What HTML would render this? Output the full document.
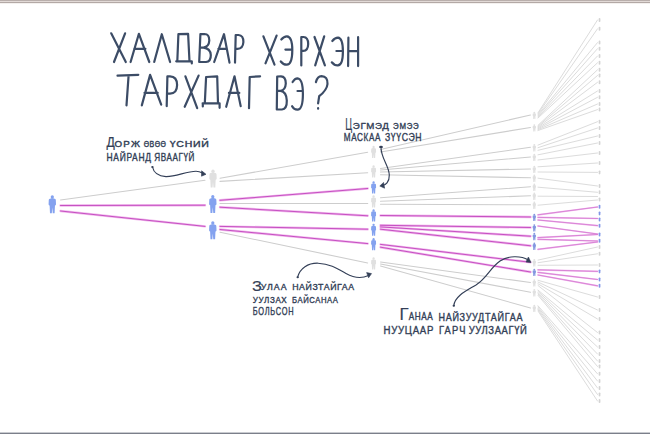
<!DOCTYPE html>
<html><head><meta charset="utf-8"><title>Халдвар хэрхэн тархдаг вэ?</title>
<style>
html,body{margin:0;padding:0;background:#fff;}
body{width:650px;height:434px;position:relative;overflow:hidden;font-family:"Liberation Sans",sans-serif;}
.tb{position:absolute;left:0;top:0;width:650px;height:3px;background:linear-gradient(#b9afac 0,#b9afac 1px,#e2dad7 1px,#e2dad7 2px,#b3a9a6 2px,#b3a9a6 3px);}
.tb2{position:absolute;left:0;top:3px;width:650px;height:1px;background:#f4f1ef;}
.bb{position:absolute;left:0;top:432px;width:650px;height:2px;background:linear-gradient(#c9cbd0 0,#c9cbd0 1px,#7b7f8a 1px,#7b7f8a 2px);}
</style></head>
<body>
<div class="tb"></div><div class="tb2"></div>
<svg width="650" height="434" viewBox="0 0 650 434" style="position:absolute;left:0;top:0">
<line x1="60.50" y1="200.00" x2="205.00" y2="180.30" stroke="#cdcdcd" stroke-width="1.10" stroke-linecap="round"/>
<line x1="220.00" y1="178.20" x2="367.70" y2="152.30" stroke="#cdcdcd" stroke-width="1.10" stroke-linecap="round"/>
<line x1="220.00" y1="181.40" x2="367.70" y2="172.80" stroke="#cdcdcd" stroke-width="1.10" stroke-linecap="round"/>
<line x1="220.00" y1="203.50" x2="367.70" y2="203.50" stroke="#cdcdcd" stroke-width="1.10" stroke-linecap="round"/>
<line x1="220.00" y1="232.20" x2="367.70" y2="263.00" stroke="#cdcdcd" stroke-width="1.10" stroke-linecap="round"/>
<line x1="380.50" y1="149.50" x2="530.50" y2="115.00" stroke="#cdcdcd" stroke-width="1.10" stroke-linecap="round"/>
<line x1="380.50" y1="152.00" x2="530.50" y2="127.50" stroke="#cdcdcd" stroke-width="1.10" stroke-linecap="round"/>
<line x1="380.50" y1="168.50" x2="530.50" y2="147.30" stroke="#cdcdcd" stroke-width="1.10" stroke-linecap="round"/>
<line x1="380.50" y1="170.00" x2="530.50" y2="157.00" stroke="#cdcdcd" stroke-width="1.10" stroke-linecap="round"/>
<line x1="380.50" y1="172.00" x2="530.50" y2="169.00" stroke="#cdcdcd" stroke-width="1.10" stroke-linecap="round"/>
<line x1="380.50" y1="174.70" x2="530.50" y2="177.80" stroke="#cdcdcd" stroke-width="1.10" stroke-linecap="round"/>
<line x1="380.50" y1="197.80" x2="530.50" y2="186.80" stroke="#cdcdcd" stroke-width="1.10" stroke-linecap="round"/>
<line x1="380.50" y1="201.20" x2="530.50" y2="195.80" stroke="#cdcdcd" stroke-width="1.10" stroke-linecap="round"/>
<line x1="380.50" y1="204.20" x2="530.50" y2="204.80" stroke="#cdcdcd" stroke-width="1.10" stroke-linecap="round"/>
<line x1="380.50" y1="262.00" x2="530.50" y2="282.50" stroke="#cdcdcd" stroke-width="1.10" stroke-linecap="round"/>
<line x1="380.50" y1="264.00" x2="530.50" y2="292.30" stroke="#cdcdcd" stroke-width="1.10" stroke-linecap="round"/>
<line x1="380.50" y1="266.00" x2="530.50" y2="308.00" stroke="#cdcdcd" stroke-width="1.10" stroke-linecap="round"/>
<line x1="538.00" y1="112.80" x2="597.50" y2="20.00" stroke="#dcdcdc" stroke-width="1.00" stroke-linecap="round"/>
<line x1="538.00" y1="113.84" x2="597.50" y2="28.80" stroke="#dcdcdc" stroke-width="1.00" stroke-linecap="round"/>
<line x1="538.00" y1="114.88" x2="597.50" y2="42.60" stroke="#dcdcdc" stroke-width="1.00" stroke-linecap="round"/>
<line x1="538.00" y1="115.92" x2="597.50" y2="48.70" stroke="#dcdcdc" stroke-width="1.00" stroke-linecap="round"/>
<line x1="538.00" y1="116.96" x2="597.50" y2="56.00" stroke="#dcdcdc" stroke-width="1.00" stroke-linecap="round"/>
<line x1="538.00" y1="118.00" x2="597.50" y2="62.80" stroke="#dcdcdc" stroke-width="1.00" stroke-linecap="round"/>
<line x1="538.00" y1="125.30" x2="597.50" y2="69.80" stroke="#dcdcdc" stroke-width="1.00" stroke-linecap="round"/>
<line x1="538.00" y1="126.17" x2="597.50" y2="75.50" stroke="#dcdcdc" stroke-width="1.00" stroke-linecap="round"/>
<line x1="538.00" y1="127.03" x2="597.50" y2="82.30" stroke="#dcdcdc" stroke-width="1.00" stroke-linecap="round"/>
<line x1="538.00" y1="127.90" x2="597.50" y2="91.00" stroke="#dcdcdc" stroke-width="1.00" stroke-linecap="round"/>
<line x1="538.00" y1="128.77" x2="597.50" y2="97.30" stroke="#dcdcdc" stroke-width="1.00" stroke-linecap="round"/>
<line x1="538.00" y1="129.63" x2="597.50" y2="104.00" stroke="#dcdcdc" stroke-width="1.00" stroke-linecap="round"/>
<line x1="538.00" y1="130.50" x2="597.50" y2="109.60" stroke="#dcdcdc" stroke-width="1.00" stroke-linecap="round"/>
<line x1="538.00" y1="145.10" x2="597.50" y2="121.70" stroke="#dcdcdc" stroke-width="1.00" stroke-linecap="round"/>
<line x1="538.00" y1="147.70" x2="597.50" y2="128.00" stroke="#dcdcdc" stroke-width="1.00" stroke-linecap="round"/>
<line x1="538.00" y1="150.30" x2="597.50" y2="136.00" stroke="#dcdcdc" stroke-width="1.00" stroke-linecap="round"/>
<line x1="538.00" y1="154.80" x2="597.50" y2="143.00" stroke="#dcdcdc" stroke-width="1.00" stroke-linecap="round"/>
<line x1="538.00" y1="160.00" x2="597.50" y2="153.00" stroke="#dcdcdc" stroke-width="1.00" stroke-linecap="round"/>
<line x1="538.00" y1="166.80" x2="597.50" y2="163.00" stroke="#dcdcdc" stroke-width="1.00" stroke-linecap="round"/>
<line x1="538.00" y1="172.00" x2="597.50" y2="172.40" stroke="#dcdcdc" stroke-width="1.00" stroke-linecap="round"/>
<line x1="538.00" y1="178.20" x2="597.50" y2="186.00" stroke="#dcdcdc" stroke-width="1.00" stroke-linecap="round"/>
<line x1="538.00" y1="187.20" x2="597.50" y2="192.30" stroke="#dcdcdc" stroke-width="1.00" stroke-linecap="round"/>
<line x1="538.00" y1="196.20" x2="597.50" y2="196.50" stroke="#dcdcdc" stroke-width="1.00" stroke-linecap="round"/>
<line x1="538.00" y1="205.20" x2="597.50" y2="200.00" stroke="#dcdcdc" stroke-width="1.00" stroke-linecap="round"/>
<line x1="538.00" y1="260.10" x2="597.50" y2="247.00" stroke="#dcdcdc" stroke-width="1.00" stroke-linecap="round"/>
<line x1="538.00" y1="262.70" x2="597.50" y2="253.80" stroke="#dcdcdc" stroke-width="1.00" stroke-linecap="round"/>
<line x1="538.00" y1="265.30" x2="597.50" y2="265.00" stroke="#dcdcdc" stroke-width="1.00" stroke-linecap="round"/>
<line x1="538.00" y1="280.30" x2="597.50" y2="297.00" stroke="#dcdcdc" stroke-width="1.00" stroke-linecap="round"/>
<line x1="538.00" y1="282.03" x2="597.50" y2="310.00" stroke="#dcdcdc" stroke-width="1.00" stroke-linecap="round"/>
<line x1="538.00" y1="283.77" x2="597.50" y2="319.00" stroke="#dcdcdc" stroke-width="1.00" stroke-linecap="round"/>
<line x1="538.00" y1="285.50" x2="597.50" y2="332.50" stroke="#dcdcdc" stroke-width="1.00" stroke-linecap="round"/>
<line x1="538.00" y1="290.10" x2="597.50" y2="340.00" stroke="#dcdcdc" stroke-width="1.00" stroke-linecap="round"/>
<line x1="538.00" y1="291.40" x2="597.50" y2="347.00" stroke="#dcdcdc" stroke-width="1.00" stroke-linecap="round"/>
<line x1="538.00" y1="292.70" x2="597.50" y2="354.00" stroke="#dcdcdc" stroke-width="1.00" stroke-linecap="round"/>
<line x1="538.00" y1="294.00" x2="597.50" y2="361.00" stroke="#dcdcdc" stroke-width="1.00" stroke-linecap="round"/>
<line x1="538.00" y1="295.30" x2="597.50" y2="366.50" stroke="#dcdcdc" stroke-width="1.00" stroke-linecap="round"/>
<line x1="538.00" y1="305.80" x2="597.50" y2="373.80" stroke="#dcdcdc" stroke-width="1.00" stroke-linecap="round"/>
<line x1="538.00" y1="307.10" x2="597.50" y2="381.00" stroke="#dcdcdc" stroke-width="1.00" stroke-linecap="round"/>
<line x1="538.00" y1="308.40" x2="597.50" y2="388.00" stroke="#dcdcdc" stroke-width="1.00" stroke-linecap="round"/>
<line x1="538.00" y1="309.70" x2="597.50" y2="394.50" stroke="#dcdcdc" stroke-width="1.00" stroke-linecap="round"/>
<line x1="538.00" y1="311.00" x2="597.50" y2="401.00" stroke="#dcdcdc" stroke-width="1.00" stroke-linecap="round"/>
<line x1="60.50" y1="205.50" x2="205.00" y2="205.20" stroke="#f1b8ed" stroke-width="2.40" stroke-linecap="round"/>
<line x1="60.50" y1="211.00" x2="205.00" y2="226.40" stroke="#f1b8ed" stroke-width="2.40" stroke-linecap="round"/>
<line x1="220.00" y1="200.30" x2="367.70" y2="188.50" stroke="#f1b8ed" stroke-width="2.40" stroke-linecap="round"/>
<line x1="220.00" y1="207.20" x2="367.70" y2="215.80" stroke="#f1b8ed" stroke-width="2.40" stroke-linecap="round"/>
<line x1="220.00" y1="226.40" x2="367.70" y2="229.20" stroke="#f1b8ed" stroke-width="2.40" stroke-linecap="round"/>
<line x1="220.00" y1="229.50" x2="367.70" y2="243.60" stroke="#f1b8ed" stroke-width="2.40" stroke-linecap="round"/>
<line x1="380.50" y1="215.50" x2="530.50" y2="217.00" stroke="#f1b8ed" stroke-width="2.40" stroke-linecap="round"/>
<line x1="380.50" y1="225.30" x2="530.50" y2="227.50" stroke="#f1b8ed" stroke-width="2.40" stroke-linecap="round"/>
<line x1="380.50" y1="226.90" x2="530.50" y2="236.20" stroke="#f1b8ed" stroke-width="2.40" stroke-linecap="round"/>
<line x1="380.50" y1="229.20" x2="530.50" y2="245.80" stroke="#f1b8ed" stroke-width="2.40" stroke-linecap="round"/>
<line x1="380.50" y1="244.40" x2="530.50" y2="262.30" stroke="#f1b8ed" stroke-width="2.40" stroke-linecap="round"/>
<line x1="380.50" y1="247.20" x2="530.50" y2="272.00" stroke="#f1b8ed" stroke-width="2.40" stroke-linecap="round"/>
<line x1="538.00" y1="214.80" x2="597.50" y2="207.00" stroke="#f1b8ed" stroke-width="1.70" stroke-linecap="round"/>
<line x1="538.00" y1="217.40" x2="597.50" y2="218.50" stroke="#f1b8ed" stroke-width="1.70" stroke-linecap="round"/>
<line x1="538.00" y1="220.00" x2="597.50" y2="225.60" stroke="#f1b8ed" stroke-width="1.70" stroke-linecap="round"/>
<line x1="538.00" y1="226.00" x2="597.50" y2="234.00" stroke="#f1b8ed" stroke-width="1.70" stroke-linecap="round"/>
<line x1="538.00" y1="237.60" x2="597.50" y2="234.50" stroke="#f1b8ed" stroke-width="1.70" stroke-linecap="round"/>
<line x1="538.00" y1="239.30" x2="597.50" y2="241.00" stroke="#f1b8ed" stroke-width="1.70" stroke-linecap="round"/>
<line x1="538.00" y1="249.30" x2="597.50" y2="242.00" stroke="#f1b8ed" stroke-width="1.70" stroke-linecap="round"/>
<line x1="538.00" y1="269.80" x2="597.50" y2="271.40" stroke="#f1b8ed" stroke-width="1.70" stroke-linecap="round"/>
<line x1="538.00" y1="272.40" x2="597.50" y2="279.50" stroke="#f1b8ed" stroke-width="1.70" stroke-linecap="round"/>
<line x1="538.00" y1="275.00" x2="597.50" y2="285.80" stroke="#f1b8ed" stroke-width="1.70" stroke-linecap="round"/>
<line x1="60.50" y1="205.50" x2="205.00" y2="205.20" stroke="#c650c2" stroke-width="1.00" stroke-linecap="round"/>
<line x1="60.50" y1="211.00" x2="205.00" y2="226.40" stroke="#c650c2" stroke-width="1.00" stroke-linecap="round"/>
<line x1="220.00" y1="200.30" x2="367.70" y2="188.50" stroke="#c650c2" stroke-width="1.00" stroke-linecap="round"/>
<line x1="220.00" y1="207.20" x2="367.70" y2="215.80" stroke="#c650c2" stroke-width="1.00" stroke-linecap="round"/>
<line x1="220.00" y1="226.40" x2="367.70" y2="229.20" stroke="#c650c2" stroke-width="1.00" stroke-linecap="round"/>
<line x1="220.00" y1="229.50" x2="367.70" y2="243.60" stroke="#c650c2" stroke-width="1.00" stroke-linecap="round"/>
<line x1="380.50" y1="215.50" x2="530.50" y2="217.00" stroke="#c650c2" stroke-width="1.00" stroke-linecap="round"/>
<line x1="380.50" y1="225.30" x2="530.50" y2="227.50" stroke="#c650c2" stroke-width="1.00" stroke-linecap="round"/>
<line x1="380.50" y1="226.90" x2="530.50" y2="236.20" stroke="#c650c2" stroke-width="1.00" stroke-linecap="round"/>
<line x1="380.50" y1="229.20" x2="530.50" y2="245.80" stroke="#c650c2" stroke-width="1.00" stroke-linecap="round"/>
<line x1="380.50" y1="244.40" x2="530.50" y2="262.30" stroke="#c650c2" stroke-width="1.00" stroke-linecap="round"/>
<line x1="380.50" y1="247.20" x2="530.50" y2="272.00" stroke="#c650c2" stroke-width="1.00" stroke-linecap="round"/>
<line x1="538.00" y1="214.80" x2="597.50" y2="207.00" stroke="#cf6fcb" stroke-width="0.70" stroke-linecap="round"/>
<line x1="538.00" y1="217.40" x2="597.50" y2="218.50" stroke="#cf6fcb" stroke-width="0.70" stroke-linecap="round"/>
<line x1="538.00" y1="220.00" x2="597.50" y2="225.60" stroke="#cf6fcb" stroke-width="0.70" stroke-linecap="round"/>
<line x1="538.00" y1="226.00" x2="597.50" y2="234.00" stroke="#cf6fcb" stroke-width="0.70" stroke-linecap="round"/>
<line x1="538.00" y1="237.60" x2="597.50" y2="234.50" stroke="#cf6fcb" stroke-width="0.70" stroke-linecap="round"/>
<line x1="538.00" y1="239.30" x2="597.50" y2="241.00" stroke="#cf6fcb" stroke-width="0.70" stroke-linecap="round"/>
<line x1="538.00" y1="249.30" x2="597.50" y2="242.00" stroke="#cf6fcb" stroke-width="0.70" stroke-linecap="round"/>
<line x1="538.00" y1="269.80" x2="597.50" y2="271.40" stroke="#cf6fcb" stroke-width="0.70" stroke-linecap="round"/>
<line x1="538.00" y1="272.40" x2="597.50" y2="279.50" stroke="#cf6fcb" stroke-width="0.70" stroke-linecap="round"/>
<line x1="538.00" y1="275.00" x2="597.50" y2="285.80" stroke="#cf6fcb" stroke-width="0.70" stroke-linecap="round"/>
<ellipse cx="52.30" cy="196.96" rx="1.63" ry="1.76" fill="#84a2ef"/><path d="M51.28,198.26 C50.82,198.63 49.15,198.44 48.78,199.74 L48.60,204.30 Q48.60,205.59 49.62,205.41 L49.99,213.27 L51.84,213.27 L52.30,207.45 L52.76,213.27 L54.61,213.27 L54.98,205.41 Q56.00,205.59 56.00,204.30 L55.81,199.74 C55.45,198.44 53.78,198.63 53.32,198.26 Z" fill="#84a2ef"/>
<ellipse cx="213.00" cy="171.26" rx="1.63" ry="1.76" fill="#e0e0e0"/><path d="M211.98,172.56 C211.52,172.93 209.85,172.74 209.49,174.04 L209.30,178.60 Q209.30,179.89 210.32,179.71 L210.69,187.57 L212.54,187.57 L213.00,181.75 L213.46,187.57 L215.31,187.57 L215.68,179.71 Q216.70,179.89 216.70,178.60 L216.51,174.04 C216.15,172.74 214.48,172.93 214.02,172.56 Z" fill="#e0e0e0"/>
<ellipse cx="212.80" cy="196.66" rx="1.63" ry="1.76" fill="#84a2ef"/><path d="M211.78,197.96 C211.32,198.33 209.66,198.14 209.29,199.44 L209.10,204.00 Q209.10,205.29 210.12,205.11 L210.49,212.97 L212.34,212.97 L212.80,207.15 L213.26,212.97 L215.11,212.97 L215.48,205.11 Q216.50,205.29 216.50,204.00 L216.31,199.44 C215.95,198.14 214.28,198.33 213.82,197.96 Z" fill="#84a2ef"/>
<ellipse cx="212.80" cy="222.96" rx="1.63" ry="1.76" fill="#84a2ef"/><path d="M211.78,224.26 C211.32,224.63 209.66,224.44 209.29,225.74 L209.10,230.30 Q209.10,231.59 210.12,231.41 L210.49,239.27 L212.34,239.27 L212.80,233.45 L213.26,239.27 L215.11,239.27 L215.48,231.41 Q216.50,231.59 216.50,230.30 L216.31,225.74 C215.95,224.44 214.28,224.63 213.82,224.26 Z" fill="#84a2ef"/>
<ellipse cx="373.60" cy="147.06" rx="1.12" ry="1.22" fill="#e0e0e0"/><path d="M372.91,147.96 C372.60,148.21 371.48,148.09 371.23,148.96 L371.10,152.00 Q371.10,152.88 371.79,152.75 L372.04,158.06 L373.29,158.06 L373.60,154.12 L373.91,158.06 L375.16,158.06 L375.41,152.75 Q376.10,152.88 376.10,152.00 L375.98,148.96 C375.73,148.09 374.60,148.21 374.29,147.96 Z" fill="#e0e0e0"/>
<ellipse cx="373.60" cy="166.56" rx="1.12" ry="1.22" fill="#e0e0e0"/><path d="M372.91,167.46 C372.60,167.71 371.48,167.59 371.23,168.46 L371.10,171.50 Q371.10,172.38 371.79,172.25 L372.04,177.56 L373.29,177.56 L373.60,173.62 L373.91,177.56 L375.16,177.56 L375.41,172.25 Q376.10,172.38 376.10,171.50 L375.98,168.46 C375.73,167.59 374.60,167.71 374.29,167.46 Z" fill="#e0e0e0"/>
<ellipse cx="373.60" cy="182.56" rx="1.12" ry="1.22" fill="#84a2ef"/><path d="M372.91,183.46 C372.60,183.71 371.48,183.59 371.23,184.46 L371.10,187.50 Q371.10,188.38 371.79,188.25 L372.04,193.56 L373.29,193.56 L373.60,189.62 L373.91,193.56 L375.16,193.56 L375.41,188.25 Q376.10,188.38 376.10,187.50 L375.98,184.46 C375.73,183.59 374.60,183.71 374.29,183.46 Z" fill="#84a2ef"/>
<ellipse cx="373.60" cy="196.56" rx="1.12" ry="1.22" fill="#e0e0e0"/><path d="M372.91,197.46 C372.60,197.71 371.48,197.59 371.23,198.46 L371.10,201.50 Q371.10,202.38 371.79,202.25 L372.04,207.56 L373.29,207.56 L373.60,203.62 L373.91,207.56 L375.16,207.56 L375.41,202.25 Q376.10,202.38 376.10,201.50 L375.98,198.46 C375.73,197.59 374.60,197.71 374.29,197.46 Z" fill="#e0e0e0"/>
<ellipse cx="373.60" cy="210.46" rx="1.12" ry="1.22" fill="#84a2ef"/><path d="M372.91,211.36 C372.60,211.61 371.48,211.49 371.23,212.36 L371.10,215.40 Q371.10,216.28 371.79,216.15 L372.04,221.46 L373.29,221.46 L373.60,217.53 L373.91,221.46 L375.16,221.46 L375.41,216.15 Q376.10,216.28 376.10,215.40 L375.98,212.36 C375.73,211.49 374.60,211.61 374.29,211.36 Z" fill="#84a2ef"/>
<ellipse cx="373.60" cy="224.86" rx="1.12" ry="1.22" fill="#84a2ef"/><path d="M372.91,225.76 C372.60,226.01 371.48,225.89 371.23,226.76 L371.10,229.80 Q371.10,230.68 371.79,230.55 L372.04,235.86 L373.29,235.86 L373.60,231.93 L373.91,235.86 L375.16,235.86 L375.41,230.55 Q376.10,230.68 376.10,229.80 L375.98,226.76 C375.73,225.89 374.60,226.01 374.29,225.76 Z" fill="#84a2ef"/>
<ellipse cx="373.60" cy="239.16" rx="1.12" ry="1.22" fill="#84a2ef"/><path d="M372.91,240.06 C372.60,240.31 371.48,240.19 371.23,241.06 L371.10,244.10 Q371.10,244.97 371.79,244.85 L372.04,250.16 L373.29,250.16 L373.60,246.22 L373.91,250.16 L375.16,250.16 L375.41,244.85 Q376.10,244.97 376.10,244.10 L375.98,241.06 C375.73,240.19 374.60,240.31 374.29,240.06 Z" fill="#84a2ef"/>
<ellipse cx="373.60" cy="258.56" rx="1.12" ry="1.22" fill="#e0e0e0"/><path d="M372.91,259.46 C372.60,259.71 371.48,259.59 371.23,260.46 L371.10,263.50 Q371.10,264.38 371.79,264.25 L372.04,269.56 L373.29,269.56 L373.60,265.62 L373.91,269.56 L375.16,269.56 L375.41,264.25 Q376.10,264.38 376.10,263.50 L375.98,260.46 C375.73,259.59 374.60,259.71 374.29,259.46 Z" fill="#e0e0e0"/>
<ellipse cx="534.30" cy="112.55" rx="0.92" ry="0.90" fill="#e0e0e0"/><path d="M533.84,113.22 C533.63,113.37 532.88,113.29 532.71,113.83 L532.63,115.40 Q532.63,115.93 533.09,115.86 L533.25,119.09 L534.09,119.09 L534.30,116.69 L534.51,119.09 L535.34,119.09 L535.51,115.86 Q535.97,115.93 535.97,115.40 L535.89,113.83 C535.72,113.29 534.97,113.37 534.76,113.22 Z" fill="#e0e0e0"/>
<ellipse cx="534.30" cy="125.05" rx="0.92" ry="0.90" fill="#e0e0e0"/><path d="M533.84,125.72 C533.63,125.87 532.88,125.79 532.71,126.33 L532.63,127.90 Q532.63,128.43 533.09,128.36 L533.25,131.59 L534.09,131.59 L534.30,129.19 L534.51,131.59 L535.34,131.59 L535.51,128.36 Q535.97,128.43 535.97,127.90 L535.89,126.33 C535.72,125.79 534.97,125.87 534.76,125.72 Z" fill="#e0e0e0"/>
<ellipse cx="534.30" cy="144.85" rx="0.92" ry="0.90" fill="#e0e0e0"/><path d="M533.84,145.52 C533.63,145.67 532.88,145.59 532.71,146.13 L532.63,147.70 Q532.63,148.23 533.09,148.16 L533.25,151.39 L534.09,151.39 L534.30,148.99 L534.51,151.39 L535.34,151.39 L535.51,148.16 Q535.97,148.23 535.97,147.70 L535.89,146.13 C535.72,145.59 534.97,145.67 534.76,145.52 Z" fill="#e0e0e0"/>
<ellipse cx="534.30" cy="154.55" rx="0.92" ry="0.90" fill="#e0e0e0"/><path d="M533.84,155.22 C533.63,155.37 532.88,155.29 532.71,155.83 L532.63,157.40 Q532.63,157.93 533.09,157.86 L533.25,161.09 L534.09,161.09 L534.30,158.69 L534.51,161.09 L535.34,161.09 L535.51,157.86 Q535.97,157.93 535.97,157.40 L535.89,155.83 C535.72,155.29 534.97,155.37 534.76,155.22 Z" fill="#e0e0e0"/>
<ellipse cx="534.30" cy="166.55" rx="0.92" ry="0.90" fill="#e0e0e0"/><path d="M533.84,167.22 C533.63,167.37 532.88,167.29 532.71,167.83 L532.63,169.40 Q532.63,169.93 533.09,169.86 L533.25,173.09 L534.09,173.09 L534.30,170.69 L534.51,173.09 L535.34,173.09 L535.51,169.86 Q535.97,169.93 535.97,169.40 L535.89,167.83 C535.72,167.29 534.97,167.37 534.76,167.22 Z" fill="#e0e0e0"/>
<ellipse cx="534.30" cy="175.35" rx="0.92" ry="0.90" fill="#e0e0e0"/><path d="M533.84,176.02 C533.63,176.17 532.88,176.09 532.71,176.63 L532.63,178.20 Q532.63,178.73 533.09,178.66 L533.25,181.89 L534.09,181.89 L534.30,179.49 L534.51,181.89 L535.34,181.89 L535.51,178.66 Q535.97,178.73 535.97,178.20 L535.89,176.63 C535.72,176.09 534.97,176.17 534.76,176.02 Z" fill="#e0e0e0"/>
<ellipse cx="534.30" cy="184.35" rx="0.92" ry="0.90" fill="#e0e0e0"/><path d="M533.84,185.02 C533.63,185.17 532.88,185.09 532.71,185.63 L532.63,187.20 Q532.63,187.73 533.09,187.66 L533.25,190.89 L534.09,190.89 L534.30,188.49 L534.51,190.89 L535.34,190.89 L535.51,187.66 Q535.97,187.73 535.97,187.20 L535.89,185.63 C535.72,185.09 534.97,185.17 534.76,185.02 Z" fill="#e0e0e0"/>
<ellipse cx="534.30" cy="193.35" rx="0.92" ry="0.90" fill="#e0e0e0"/><path d="M533.84,194.02 C533.63,194.17 532.88,194.09 532.71,194.63 L532.63,196.20 Q532.63,196.73 533.09,196.66 L533.25,199.89 L534.09,199.89 L534.30,197.49 L534.51,199.89 L535.34,199.89 L535.51,196.66 Q535.97,196.73 535.97,196.20 L535.89,194.63 C535.72,194.09 534.97,194.17 534.76,194.02 Z" fill="#e0e0e0"/>
<ellipse cx="534.30" cy="202.35" rx="0.92" ry="0.90" fill="#e0e0e0"/><path d="M533.84,203.02 C533.63,203.17 532.88,203.09 532.71,203.63 L532.63,205.20 Q532.63,205.73 533.09,205.66 L533.25,208.89 L534.09,208.89 L534.30,206.49 L534.51,208.89 L535.34,208.89 L535.51,205.66 Q535.97,205.73 535.97,205.20 L535.89,203.63 C535.72,203.09 534.97,203.17 534.76,203.02 Z" fill="#e0e0e0"/>
<ellipse cx="534.30" cy="214.55" rx="0.92" ry="0.90" fill="#8497e0"/><path d="M533.84,215.22 C533.63,215.37 532.88,215.29 532.71,215.83 L532.63,217.40 Q532.63,217.93 533.09,217.86 L533.25,221.09 L534.09,221.09 L534.30,218.69 L534.51,221.09 L535.34,221.09 L535.51,217.86 Q535.97,217.93 535.97,217.40 L535.89,215.83 C535.72,215.29 534.97,215.37 534.76,215.22 Z" fill="#8497e0"/>
<ellipse cx="534.30" cy="225.05" rx="0.92" ry="0.90" fill="#8497e0"/><path d="M533.84,225.72 C533.63,225.87 532.88,225.79 532.71,226.33 L532.63,227.90 Q532.63,228.43 533.09,228.36 L533.25,231.59 L534.09,231.59 L534.30,229.19 L534.51,231.59 L535.34,231.59 L535.51,228.36 Q535.97,228.43 535.97,227.90 L535.89,226.33 C535.72,225.79 534.97,225.87 534.76,225.72 Z" fill="#8497e0"/>
<ellipse cx="534.30" cy="233.75" rx="0.92" ry="0.90" fill="#8497e0"/><path d="M533.84,234.42 C533.63,234.57 532.88,234.49 532.71,235.03 L532.63,236.60 Q532.63,237.13 533.09,237.06 L533.25,240.29 L534.09,240.29 L534.30,237.89 L534.51,240.29 L535.34,240.29 L535.51,237.06 Q535.97,237.13 535.97,236.60 L535.89,235.03 C535.72,234.49 534.97,234.57 534.76,234.42 Z" fill="#8497e0"/>
<ellipse cx="534.30" cy="243.35" rx="0.92" ry="0.90" fill="#8497e0"/><path d="M533.84,244.02 C533.63,244.17 532.88,244.09 532.71,244.63 L532.63,246.20 Q532.63,246.73 533.09,246.66 L533.25,249.89 L534.09,249.89 L534.30,247.49 L534.51,249.89 L535.34,249.89 L535.51,246.66 Q535.97,246.73 535.97,246.20 L535.89,244.63 C535.72,244.09 534.97,244.17 534.76,244.02 Z" fill="#8497e0"/>
<ellipse cx="534.30" cy="259.85" rx="0.92" ry="0.90" fill="#e0e0e0"/><path d="M533.84,260.52 C533.63,260.67 532.88,260.59 532.71,261.13 L532.63,262.70 Q532.63,263.23 533.09,263.16 L533.25,266.39 L534.09,266.39 L534.30,263.99 L534.51,266.39 L535.34,266.39 L535.51,263.16 Q535.97,263.23 535.97,262.70 L535.89,261.13 C535.72,260.59 534.97,260.67 534.76,260.52 Z" fill="#e0e0e0"/>
<ellipse cx="534.30" cy="269.55" rx="0.92" ry="0.90" fill="#8497e0"/><path d="M533.84,270.22 C533.63,270.37 532.88,270.29 532.71,270.83 L532.63,272.40 Q532.63,272.93 533.09,272.86 L533.25,276.09 L534.09,276.09 L534.30,273.69 L534.51,276.09 L535.34,276.09 L535.51,272.86 Q535.97,272.93 535.97,272.40 L535.89,270.83 C535.72,270.29 534.97,270.37 534.76,270.22 Z" fill="#8497e0"/>
<ellipse cx="534.30" cy="280.05" rx="0.92" ry="0.90" fill="#e0e0e0"/><path d="M533.84,280.72 C533.63,280.87 532.88,280.79 532.71,281.33 L532.63,282.90 Q532.63,283.43 533.09,283.36 L533.25,286.59 L534.09,286.59 L534.30,284.19 L534.51,286.59 L535.34,286.59 L535.51,283.36 Q535.97,283.43 535.97,282.90 L535.89,281.33 C535.72,280.79 534.97,280.87 534.76,280.72 Z" fill="#e0e0e0"/>
<ellipse cx="534.30" cy="289.85" rx="0.92" ry="0.90" fill="#e0e0e0"/><path d="M533.84,290.52 C533.63,290.67 532.88,290.59 532.71,291.13 L532.63,292.70 Q532.63,293.23 533.09,293.16 L533.25,296.39 L534.09,296.39 L534.30,293.99 L534.51,296.39 L535.34,296.39 L535.51,293.16 Q535.97,293.23 535.97,292.70 L535.89,291.13 C535.72,290.59 534.97,290.67 534.76,290.52 Z" fill="#e0e0e0"/>
<ellipse cx="534.30" cy="305.55" rx="0.92" ry="0.90" fill="#e0e0e0"/><path d="M533.84,306.22 C533.63,306.37 532.88,306.29 532.71,306.83 L532.63,308.40 Q532.63,308.93 533.09,308.86 L533.25,312.09 L534.09,312.09 L534.30,309.69 L534.51,312.09 L535.34,312.09 L535.51,308.86 Q535.97,308.93 535.97,308.40 L535.89,306.83 C535.72,306.29 534.97,306.37 534.76,306.22 Z" fill="#e0e0e0"/>
<rect x="598.70" y="18.00" width="1.7" height="4.0" rx="0.8" fill="#d3d3d3"/>
<rect x="598.70" y="26.80" width="1.7" height="4.0" rx="0.8" fill="#d3d3d3"/>
<rect x="598.70" y="40.60" width="1.7" height="4.0" rx="0.8" fill="#d3d3d3"/>
<rect x="598.70" y="46.70" width="1.7" height="4.0" rx="0.8" fill="#d3d3d3"/>
<rect x="598.70" y="54.00" width="1.7" height="4.0" rx="0.8" fill="#d3d3d3"/>
<rect x="598.70" y="60.80" width="1.7" height="4.0" rx="0.8" fill="#d3d3d3"/>
<rect x="598.70" y="67.80" width="1.7" height="4.0" rx="0.8" fill="#d3d3d3"/>
<rect x="598.70" y="73.50" width="1.7" height="4.0" rx="0.8" fill="#d3d3d3"/>
<rect x="598.70" y="80.30" width="1.7" height="4.0" rx="0.8" fill="#d3d3d3"/>
<rect x="598.70" y="89.00" width="1.7" height="4.0" rx="0.8" fill="#d3d3d3"/>
<rect x="598.70" y="95.30" width="1.7" height="4.0" rx="0.8" fill="#d3d3d3"/>
<rect x="598.70" y="102.00" width="1.7" height="4.0" rx="0.8" fill="#d3d3d3"/>
<rect x="598.70" y="107.60" width="1.7" height="4.0" rx="0.8" fill="#d3d3d3"/>
<rect x="598.70" y="119.70" width="1.7" height="4.0" rx="0.8" fill="#d3d3d3"/>
<rect x="598.70" y="126.00" width="1.7" height="4.0" rx="0.8" fill="#d3d3d3"/>
<rect x="598.70" y="134.00" width="1.7" height="4.0" rx="0.8" fill="#d3d3d3"/>
<rect x="598.70" y="141.00" width="1.7" height="4.0" rx="0.8" fill="#d3d3d3"/>
<rect x="598.70" y="151.00" width="1.7" height="4.0" rx="0.8" fill="#d3d3d3"/>
<rect x="598.70" y="161.00" width="1.7" height="4.0" rx="0.8" fill="#d3d3d3"/>
<rect x="598.70" y="170.40" width="1.7" height="4.0" rx="0.8" fill="#d3d3d3"/>
<rect x="598.70" y="184.00" width="1.7" height="4.0" rx="0.8" fill="#d3d3d3"/>
<rect x="598.70" y="190.30" width="1.7" height="4.0" rx="0.8" fill="#d3d3d3"/>
<rect x="598.70" y="197.50" width="1.7" height="4.0" rx="0.8" fill="#d3d3d3"/>
<rect x="598.70" y="204.80" width="1.7" height="4.0" rx="0.8" fill="#7f95e6"/>
<rect x="598.70" y="211.40" width="1.7" height="4.0" rx="0.8" fill="#7f95e6"/>
<rect x="598.70" y="217.50" width="1.7" height="4.0" rx="0.8" fill="#7f95e6"/>
<rect x="598.70" y="223.80" width="1.7" height="4.0" rx="0.8" fill="#7f95e6"/>
<rect x="598.70" y="232.50" width="1.7" height="4.0" rx="0.8" fill="#7f95e6"/>
<rect x="598.70" y="238.80" width="1.7" height="4.0" rx="0.8" fill="#7f95e6"/>
<rect x="598.70" y="245.00" width="1.7" height="4.0" rx="0.8" fill="#d3d3d3"/>
<rect x="598.70" y="251.80" width="1.7" height="4.0" rx="0.8" fill="#d3d3d3"/>
<rect x="598.70" y="263.00" width="1.7" height="4.0" rx="0.8" fill="#d3d3d3"/>
<rect x="598.70" y="269.40" width="1.7" height="4.0" rx="0.8" fill="#7f95e6"/>
<rect x="598.70" y="277.50" width="1.7" height="4.0" rx="0.8" fill="#7f95e6"/>
<rect x="598.70" y="283.80" width="1.7" height="4.0" rx="0.8" fill="#7f95e6"/>
<rect x="598.70" y="295.00" width="1.7" height="4.0" rx="0.8" fill="#d3d3d3"/>
<rect x="598.70" y="308.00" width="1.7" height="4.0" rx="0.8" fill="#d3d3d3"/>
<rect x="598.70" y="317.00" width="1.7" height="4.0" rx="0.8" fill="#d3d3d3"/>
<rect x="598.70" y="330.50" width="1.7" height="4.0" rx="0.8" fill="#d3d3d3"/>
<rect x="598.70" y="338.00" width="1.7" height="4.0" rx="0.8" fill="#d3d3d3"/>
<rect x="598.70" y="345.00" width="1.7" height="4.0" rx="0.8" fill="#d3d3d3"/>
<rect x="598.70" y="352.00" width="1.7" height="4.0" rx="0.8" fill="#d3d3d3"/>
<rect x="598.70" y="359.00" width="1.7" height="4.0" rx="0.8" fill="#d3d3d3"/>
<rect x="598.70" y="364.50" width="1.7" height="4.0" rx="0.8" fill="#d3d3d3"/>
<rect x="598.70" y="371.80" width="1.7" height="4.0" rx="0.8" fill="#d3d3d3"/>
<rect x="598.70" y="379.00" width="1.7" height="4.0" rx="0.8" fill="#d3d3d3"/>
<rect x="598.70" y="386.00" width="1.7" height="4.0" rx="0.8" fill="#d3d3d3"/>
<rect x="598.70" y="392.50" width="1.7" height="4.0" rx="0.8" fill="#d3d3d3"/>
<rect x="598.70" y="399.00" width="1.7" height="4.0" rx="0.8" fill="#d3d3d3"/>
<g fill="none" stroke="#3c4c66" stroke-width="2.2" stroke-linecap="round" stroke-linejoin="round">
<path d="M111.2,33.3 L125.8,62 M125.1,33.3 L114,62"/>
<path d="M130.6,62 L138.9,33.8 L149.3,62 M134.3,48.8 L145.4,48.8"/>
<path d="M154.2,62 L161.8,34.2 L170.1,62"/>
<path d="M177.3,61.5 L178.4,34.2 L188.1,33.8 L189.5,61.5 M176.2,61.3 L191.8,61.3 L191.8,63.4"/>
<path d="M200.4,34.2 L199.2,62 L206,62 Q211,61.6 210.8,55 Q210.4,48.4 203.5,47.6 L200,47.6 M200.4,34.2 L204.5,34 Q209.3,34 209.3,40.5 Q209,46.6 203.5,47.6"/>
<path d="M214.2,62 L224,34.2 L229.5,62.6 M218.4,48.8 L226.3,48.8"/>
<path d="M235,62.6 L235.7,35 L238.5,35 Q243.5,35.3 243.4,42 Q243,48.8 237.5,48.8 L235.4,48.8"/>
<path d="M263.4,36.3 L274.5,64.7 M276.6,35.6 L265.5,63.3"/>
<path d="M281.3,39.5 Q284,36.2 287,36.3 Q292.3,36.8 292.3,50 Q292.3,64.5 286.8,64.7 Q283.3,64.8 280.8,61.5 M285.4,49.6 L291.8,49.6"/>
<path d="M301.3,65.4 L301.3,37 L303.5,37 Q308.2,37.2 308.2,44 Q308,50.9 303.3,50.9 L301.3,50.9"/>
<path d="M314.5,37 L324.9,65.4 M324.2,36.3 L315.2,65.4"/>
<path d="M332.3,41 Q335,37.7 338,37.7 Q342.9,38.2 342.9,51.5 Q342.9,65.2 337.8,65.4 Q334.3,65.5 331.8,62.3 M336.4,51 L342.4,51"/>
<path d="M348.4,37.7 L348.1,66.1 M358.1,37.2 L358.1,66.1 M348.2,51.2 L358.1,51.2"/>
<path d="M117.5,75.6 L138.3,74.9 M128.6,75.4 L126.5,105.4"/>
<path d="M141.8,105.4 L150.1,74.9 L161.2,104.7 M144.5,92.9 L157.7,92.9"/>
<path d="M166.7,106.1 L167.4,76.3 L170,76.3 Q177.1,76.5 177.1,85 Q177,93.6 170,93.6 L167.2,93.6"/>
<path d="M185.4,76.3 L197.2,108.2 M198.6,75.6 L184.7,106.8"/>
<path d="M204.8,103.3 L206.1,77 L217.2,76.3 L218,103.3 M202.6,103.3 L219.6,103.3 L219.6,107.8 M202.8,103.3 L202.8,106.5"/>
<path d="M226.2,106.8 L234.5,76.3 L240.7,106.1 M228.9,92.9 L239.3,92.9"/>
<path d="M249,108.2 L249.7,77 L260.1,76.3"/>
<path d="M277.2,76.5 L276.8,109.5 L282,109.5 Q287,109.2 286.8,100.5 Q286.4,91.5 280.5,90.8 L277.1,90.8 M277.2,76.5 L281,76.3 Q285.8,76.5 285.8,83.5 Q285.4,90.2 280.5,90.8"/>
<path d="M292.6,82 Q294.8,78.3 297.5,78.3 Q302.9,78.8 302.9,94 Q302.9,109.5 297.5,109.7 Q294,109.8 292.1,106.2 M297.5,91 L302.6,91"/>
<path d="M315.9,82.1 Q317.5,76.1 321.5,76.1 Q327.8,76.3 327.5,84 Q327,90 319.2,96.2 L318.1,103.3 M318.1,108.2 L318.1,108.7"/>
</g>
<g fill="none" stroke="#333f57" stroke-width="1.15" stroke-linecap="round" stroke-linejoin="round">
<path d="M152.5,167 C153.5,172 157,176 166,176.6 C176,176.8 186,171.4 196,171.2 C199,171.2 201,172.2 203,173.2"/>
<path d="M381,147.5 C381,158 389,166 389.3,175 C389.5,182 385.5,185.3 382,185.7"/>
<path d="M297.6,277.2 C300,268 308,263 318,263.2 C331,264 338,269 346,273.5 C354,278 362,278.5 368.5,275.5"/>
<path d="M453.8,305.6 C455,296 466,291 476,285 C487,278 490,268 500,261 C508,255.5 521,255.5 528,259.8"/>
</g>
<polygon points="206.00,174.30 201.60,170.80 201.50,176.20" fill="#333f57" stroke="#333f57" stroke-width="0.6" stroke-linejoin="round"/>
<ellipse cx="152.40" cy="167.00" rx="1.20" ry="1.00" fill="#333f57"/>
<polygon points="379.80,186.00 383.60,182.40 384.60,188.20" fill="#333f57" stroke="#333f57" stroke-width="0.6" stroke-linejoin="round"/>
<ellipse cx="381.00" cy="146.90" rx="1.90" ry="1.20" fill="#333f57"/>
<polygon points="371.50,273.60 366.60,272.60 368.60,277.80" fill="#333f57" stroke="#333f57" stroke-width="0.6" stroke-linejoin="round"/>
<ellipse cx="297.70" cy="277.20" rx="1.20" ry="1.00" fill="#333f57"/>
<polygon points="531.00,262.40 526.00,262.00 528.40,257.00" fill="#333f57" stroke="#333f57" stroke-width="0.6" stroke-linejoin="round"/>
<ellipse cx="453.80" cy="305.80" rx="1.20" ry="1.00" fill="#333f57"/>
<text id="w0" x="106.50" y="146.50" font-family="Liberation Sans, sans-serif" font-size="14.53" fill="#333f57" stroke="#333f57" stroke-width="0.20" stroke-linejoin="round" textLength="8.30" lengthAdjust="spacingAndGlyphs">Д</text>
<text id="w1" transform="translate(114.40 146.90) scale(1.121 1)" x="0" y="0" font-family="Liberation Sans, sans-serif" font-size="8.72" fill="#333f57" stroke="#333f57" stroke-width="0.40" stroke-linejoin="round" textLength="22.95" lengthAdjust="spacing">ОРЖ</text>
<text id="w2" transform="translate(143.70 146.90) scale(0.796 1)" x="0" y="0" font-family="Liberation Sans, sans-serif" font-size="8.72" fill="#333f57" stroke="#333f57" stroke-width="0.40" stroke-linejoin="round" textLength="27.90" lengthAdjust="spacing">ӨВӨӨ</text>
<text id="w3" transform="translate(169.80 146.90) scale(1.210 1)" x="0" y="0" font-family="Liberation Sans, sans-serif" font-size="8.72" fill="#333f57" stroke="#333f57" stroke-width="0.40" stroke-linejoin="round" textLength="32.26" lengthAdjust="spacing">ҮСНИЙ</text>
<text id="w4" transform="translate(106.60 161.40) scale(0.798 1)" x="0" y="0" font-family="Liberation Sans, sans-serif" font-size="10.61" fill="#333f57" stroke="#333f57" stroke-width="0.40" stroke-linejoin="round" textLength="55.52" lengthAdjust="spacing">НАЙРАНД</text>
<text id="w5" transform="translate(154.20 161.40) scale(0.767 1)" x="0" y="0" font-family="Liberation Sans, sans-serif" font-size="10.61" fill="#333f57" stroke="#333f57" stroke-width="0.40" stroke-linejoin="round" textLength="52.33" lengthAdjust="spacing">ЯВААГҮЙ</text>
<text id="w6" x="345.20" y="129.60" font-family="Liberation Sans, sans-serif" font-size="15.99" fill="#333f57" stroke="#333f57" stroke-width="0.20" stroke-linejoin="round" textLength="6.85" lengthAdjust="spacingAndGlyphs">Ц</text>
<text id="w7" transform="translate(352.70 129.30) scale(0.982 1)" x="0" y="0" font-family="Liberation Sans, sans-serif" font-size="9.88" fill="#333f57" stroke="#333f57" stroke-width="0.40" stroke-linejoin="round" textLength="36.89" lengthAdjust="spacing">ЭГМЭД</text>
<text id="w8" transform="translate(393.10 129.30) scale(0.843 1)" x="0" y="0" font-family="Liberation Sans, sans-serif" font-size="9.30" fill="#333f57" stroke="#333f57" stroke-width="0.40" stroke-linejoin="round" textLength="30.38" lengthAdjust="spacing">ЭМЭЭ</text>
<text id="w9" transform="translate(343.80 141.20) scale(0.736 1)" x="0" y="0" font-family="Liberation Sans, sans-serif" font-size="11.05" fill="#333f57" stroke="#333f57" stroke-width="0.40" stroke-linejoin="round" textLength="49.71" lengthAdjust="spacing">МАСКАА</text>
<text id="w10" transform="translate(384.90 141.20) scale(0.786 1)" x="0" y="0" font-family="Liberation Sans, sans-serif" font-size="11.05" fill="#333f57" stroke="#333f57" stroke-width="0.40" stroke-linejoin="round" textLength="46.63" lengthAdjust="spacing">ЗҮҮСЭН</text>
<text id="w11" x="252.00" y="290.60" font-family="Liberation Sans, sans-serif" font-size="14.53" fill="#333f57" stroke="#333f57" stroke-width="0.20" stroke-linejoin="round" textLength="9.89" lengthAdjust="spacingAndGlyphs">З</text>
<text id="w12" transform="translate(260.80 290.00) scale(0.919 1)" x="0" y="0" font-family="Liberation Sans, sans-serif" font-size="9.59" fill="#333f57" stroke="#333f57" stroke-width="0.40" stroke-linejoin="round" textLength="27.99" lengthAdjust="spacing">УЛАА</text>
<text id="w13" transform="translate(292.20 290.00) scale(0.890 1)" x="0" y="0" font-family="Liberation Sans, sans-serif" font-size="9.88" fill="#333f57" stroke="#333f57" stroke-width="0.40" stroke-linejoin="round" textLength="69.53" lengthAdjust="spacing">НАЙЗТАЙГАА</text>
<text id="w14" transform="translate(252.80 302.50) scale(0.811 1)" x="0" y="0" font-family="Liberation Sans, sans-serif" font-size="9.88" fill="#333f57" stroke="#333f57" stroke-width="0.40" stroke-linejoin="round" textLength="41.82" lengthAdjust="spacing">УУЛЗАХ</text>
<text id="w15" transform="translate(292.10 302.50) scale(0.782 1)" x="0" y="0" font-family="Liberation Sans, sans-serif" font-size="9.88" fill="#333f57" stroke="#333f57" stroke-width="0.40" stroke-linejoin="round" textLength="58.58" lengthAdjust="spacing">БАЙСАНАА</text>
<text id="w16" transform="translate(252.80 314.80) scale(0.654 1)" x="0" y="0" font-family="Liberation Sans, sans-serif" font-size="11.34" fill="#333f57" stroke="#333f57" stroke-width="0.40" stroke-linejoin="round" textLength="62.45" lengthAdjust="spacing">БОЛЬСОН</text>
<text id="w17" x="399.60" y="320.30" font-family="Liberation Sans, sans-serif" font-size="16.86" fill="#333f57" stroke="#333f57" stroke-width="0.20" stroke-linejoin="round" textLength="9.14" lengthAdjust="spacingAndGlyphs">Г</text>
<text id="w18" transform="translate(408.80 320.20) scale(0.783 1)" x="0" y="0" font-family="Liberation Sans, sans-serif" font-size="10.47" fill="#333f57" stroke="#333f57" stroke-width="0.40" stroke-linejoin="round" textLength="30.70" lengthAdjust="spacing">АНАА</text>
<text id="w19" transform="translate(438.50 320.90) scale(0.841 1)" x="0" y="0" font-family="Liberation Sans, sans-serif" font-size="10.76" fill="#333f57" stroke="#333f57" stroke-width="0.40" stroke-linejoin="round" textLength="99.88" lengthAdjust="spacing">НАЙЗУУДТАЙГАА</text>
<text id="w20" transform="translate(383.60 333.90) scale(0.870 1)" x="0" y="0" font-family="Liberation Sans, sans-serif" font-size="11.05" fill="#333f57" stroke="#333f57" stroke-width="0.40" stroke-linejoin="round" textLength="57.16" lengthAdjust="spacing">НУУЦААР</text>
<text id="w21" transform="translate(439.00 333.90) scale(0.845 1)" x="0" y="0" font-family="Liberation Sans, sans-serif" font-size="11.05" fill="#333f57" stroke="#333f57" stroke-width="0.40" stroke-linejoin="round" textLength="31.46" lengthAdjust="spacing">ГАРЧ</text>
<text id="w22" transform="translate(468.70 333.90) scale(0.855 1)" x="0" y="0" font-family="Liberation Sans, sans-serif" font-size="11.05" fill="#333f57" stroke="#333f57" stroke-width="0.40" stroke-linejoin="round" textLength="67.96" lengthAdjust="spacing">УУЛЗААГҮЙ</text>
</svg>
<div class="bb"></div>
</body></html>
